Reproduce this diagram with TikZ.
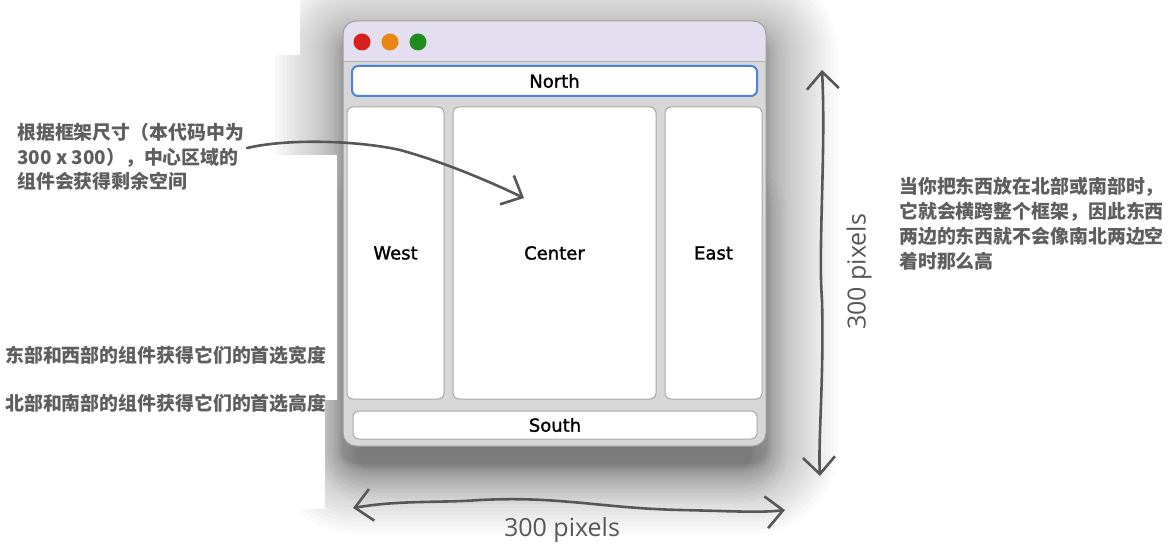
\documentclass[tikz,border=0pt]{standalone}
\usepackage{fontspec}
\setmainfont{DejaVu Sans}[FakeBold=1.4]
\newfontfamily\cjk{Noto Sans CJK SC}
\newfontfamily\hand{Open Sans}
\usetikzlibrary{arrows.meta}
\definecolor{ink}{HTML}{575757}
\definecolor{note}{HTML}{5E5E5E}
\definecolor{winbody}{HTML}{D7D7D7}
\definecolor{winedge}{HTML}{9C9C9C}
\definecolor{titlebar}{HTML}{E4DFF0}
\definecolor{paneedge}{HTML}{A9A9A9}
\definecolor{focusblue}{HTML}{4C82DA}
\definecolor{lightred}{HTML}{D91E1E}
\definecolor{lightorange}{HTML}{E9860F}
\definecolor{lightgreen}{HTML}{1F8C1F}
\tikzset{
  pane/.style={draw=paneedge, fill=white, line width=1pt, rounded corners=6pt,
    inner sep=0pt, font=\fontsize{18}{20}\selectfont, text=black},
  notetext/.style={anchor=base west, inner sep=0pt, text=note,
    font=\cjk\bfseries\fontsize{18.9}{24}\selectfont},
  sketch/.style={draw=ink, line width=2.6pt, line cap=round, line join=round},
  barb/.style={-{Straight Barb[length=17pt,width=32pt]}},
  barbs/.style={{Straight Barb[length=17pt,width=32pt]}-{Straight Barb[length=17pt,width=32pt]}},
  handlabel/.style={text=ink, inner sep=0pt, font=\hand\fontsize{25}{28}\selectfont}
}
\begin{document}
\begin{tikzpicture}[x=1pt,y=-1pt]
\useasboundingbox (0,0) rectangle (1175,553);

% soft window shadow, denser near the frame and dropped slightly
\begin{scope}
  \clip (0,0) rectangle (1175,553);
  \foreach \k in {1,1.25,...,8.5} {
    \pgfmathsetmacro\d{\k*\k}
    \pgfmathsetmacro\rr{\d+13}
    \fill[black, opacity=0.016, rounded corners=\rr pt]
      (343-\d,39-\d) rectangle (766+\d,462+\d);
  }
  % extra depth underneath the frame
  \foreach \k in {1,1.5,...,6} {
    \pgfmathsetmacro\d{\k*\k}
    \pgfmathsetmacro\rr{\d+13}
    \fill[black, opacity=0.02, rounded corners=\rr pt]
      (358-\d,200-\d) rectangle (751+\d,468+\d);
  }
\end{scope}

% white backing behind the left-hand notes
\fill[white] (0,0) rectangle (300,55);
\fill[white] (0,55) rectangle (275,155);
\fill[white] (0,155) rectangle (337,400);
\fill[white] (0,400) rectangle (325,509);

% window frame and title bar
\fill[winbody, rounded corners=13pt] (343,21) rectangle (766,446);
\begin{scope}
  \clip (343,21) rectangle (766,61);
  \fill[titlebar, rounded corners=13pt] (343,21) rectangle (766,446);
\end{scope}
\draw[color=winedge!80, line width=1.5pt] (343,61.5) -- (766,61.5);
\draw[winedge, line width=1pt, rounded corners=13pt] (343,21) rectangle (766,446);

% traffic lights
\fill[lightred] (362,42) circle (8.5);
\fill[lightorange] (390,42) circle (8.5);
\fill[lightgreen] (418,42) circle (8.5);

% BorderLayout regions
\node[pane, draw=focusblue, line width=2pt, minimum width=405pt, minimum height=30pt] (north) at (554.5,81) {North};
\node[pane, minimum width=97pt, minimum height=292pt] (west) at (395.5,253) {West};
\node[pane, minimum width=203pt, minimum height=292pt] (center) at (554.5,253) {Center};
\node[pane, minimum width=97pt, minimum height=292pt] (east) at (713.5,253) {East};
\node[pane, minimum width=404pt, minimum height=28pt] (south) at (555,425) {South};

% notes
\node[notetext] (c1) at (17,140) {根据框架尺寸（本代码中为};
\node[notetext] (c2) at (17,164.5) {300 x 300），中心区域的};
\node[notetext] (c3) at (17,189) {组件会获得剩余空间};

\node[notetext] (ew) at (5,362) {东部和西部的组件获得它们的首选宽度};
\node[notetext] (ns) at (5,410) {北部和南部的组件获得它们的首选高度};

\node[notetext] (r1) at (899,194) {当你把东西放在北部或南部时，};
\node[notetext] (r2) at (899,219) {它就会横跨整个框架，因此东西};
\node[notetext] (r3) at (899,244) {两边的东西就不会像南北两边空};
\node[notetext] (r4) at (899,269) {着时那么高};

% hand-drawn arrows
\coordinate (cstart) at (247,148);
\coordinate (ctip) at (524,198);
\draw[sketch, barb] (cstart) .. controls (290,138) and (360,141) .. (400,150)
  .. controls (440,161) and (482,178) .. (ctip);

\coordinate (hl) at (353,508);
\coordinate (hr) at (785,510);
\draw[sketch, barbs] (hl) .. controls (400,500) and (440,503) .. (480,500)
  .. controls (560,496) and (600,508) .. (680,510)
  .. controls (730,511) and (760,513) .. (hr);

\coordinate (vt) at (822,70);
\coordinate (vb) at (820,476);
\draw[sketch, barbs] (vt) .. controls (826,150) and (818,250) .. (822,300)
  .. controls (824,380) and (818,440) .. (vb);

\node[handlabel] (wlabel) at (562,530) {300 pixels};
\node[handlabel, rotate=90] (hlabel) at (859,272) {300 pixels};
\end{tikzpicture}
\end{document}
